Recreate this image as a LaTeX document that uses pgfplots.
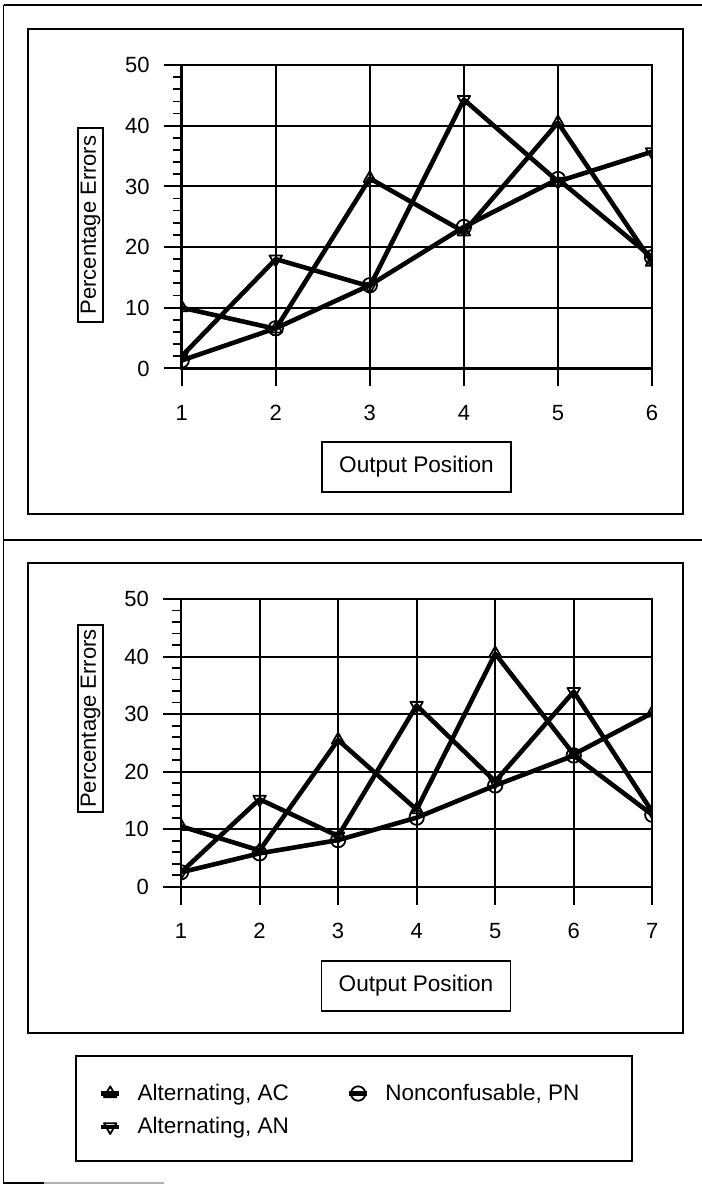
\documentclass[border=0pt]{standalone}
\usepackage{fontspec}
\setmainfont{Liberation Sans}
\usepackage{pgfplots}
\pgfplotsset{compat=1.18}

\pgfplotsset{
  myaxis/.style={
    scale only axis,
    xmin=1, ymin=0, ymax=50,
    xtick=data,
    ytick={0,10,...,50},
    minor y tick num=4,
    grid=major,
    major grid style={black, line width=1pt},
    axis line style={black, line width=1.2pt},
    tick align=outside,
    xtick pos=bottom, ytick pos=left,
    major tick length=9pt, minor tick length=4.5pt,
    major tick style={black, line width=1pt},
    minor tick style={black, line width=0.9pt},
    tick label style={font=\fontsize{11}{12}\selectfont},
    typeset ticklabels with strut,
    xticklabel style={yshift=-5pt},
    yticklabel style={xshift=-3.5pt, yshift=-1.5pt},
    /pgf/number format/assume math mode=true,
    clip mode=global,
    clip marker paths=true,
  },
  pl/.style={black, line width=2.3pt, line join=round, mark size=3.6pt},
  mo/.style={mark options={solid, line width=0.9pt}},
  md/.style={mark options={solid, line width=0.9pt, rotate=180}},
}

\begin{document}
\begin{tikzpicture}
\useasboundingbox (0pt,0pt) rectangle (351pt,-592.5pt);

% outer lines
\draw[line width=0.8pt] (1.75pt,-2.5pt) -- (351pt,-2.5pt);
\draw[line width=0.8pt] (1.75pt,-2.5pt) -- (1.75pt,-591.5pt) -- (22pt,-591.5pt);
\draw[line width=0.6pt, black!30] (22pt,-591.5pt) -- (82pt,-591.5pt);
\draw[line width=0.9pt] (1.75pt,-270pt) -- (351pt,-270pt);

% panel frames
\draw[line width=1.1pt] (14pt,-14.5pt) rectangle (341.5pt,-257pt);
\draw[line width=1.1pt] (14pt,-281.5pt) rectangle (341.5pt,-516.5pt);
\draw[line width=1.1pt] (38pt,-528pt) rectangle (316pt,-580.5pt);

% top axis
\begin{axis}[myaxis,
  at={(90.85pt,-184.15pt)}, anchor=south west,
  width=235.15pt, height=151.65pt,
  xmax=6,
]
\addplot[pl, mark=triangle, mo] coordinates {(1,10)(2,6.5)(3,31.3)(4,22.5)(5,40.5)(6,17.5)};
\addplot[pl, mark=triangle, md] coordinates {(1,2)(2,18)(3,13.5)(4,44.3)(5,30.8)(6,35.7)};
\addplot[pl, mark=o, mo] coordinates {(1,1.3)(2,6.6)(3,13.7)(4,23.3)(5,31.2)(6,18.3)};
\end{axis}

% bottom axis
\begin{axis}[myaxis,
  at={(90.5pt,-443.35pt)}, anchor=south west,
  width=235.65pt, height=143.85pt,
  xmax=7,
  legend columns=2,
  legend cell align=left,
  legend image code/.code={\draw[#1, mark repeat=2, mark phase=2] plot coordinates {(0pt,0pt) (4.5pt,0pt) (9pt,0pt)};},
  legend style={draw=none, fill=none, at={(-0.175,-0.67)}, anchor=north west,
    font=\fontsize{11.25}{13}\selectfont, inner sep=0pt, row sep=3pt,
    /tikz/every odd column/.append style={column sep=6pt},
    /tikz/every even column/.append style={column sep=27pt}},
]
\addplot[pl, mark=triangle, mo] coordinates {(1,10.5)(2,6.3)(3,25.5)(4,13.4)(5,40.5)(6,23)(7,30.2)};
\addlegendentry{Alternating, AC}
\addplot[pl, mark=o, mo] coordinates {(1,2.5)(2,5.8)(3,8.1)(4,12)(5,17.6)(6,22.8)(7,12.5)};
\addlegendentry{Nonconfusable, PN}
\addplot[pl, mark=triangle, md] coordinates {(1,2.5)(2,15.2)(3,8.8)(4,31.5)(5,18.3)(6,33.9)(7,13)};
\addlegendentry{Alternating, AN}
\end{axis}

% label boxes
\node[draw, line width=0.9pt, rotate=90, minimum width=97pt, minimum height=12.5pt, inner sep=0pt,
  font=\fontsize{11}{13}\selectfont] at (45.25pt,-112.5pt) {Percentage Errors};
\node[draw, line width=0.9pt, rotate=90, minimum width=93.5pt, minimum height=12.5pt, inner sep=0pt,
  font=\fontsize{11}{13}\selectfont] at (45.25pt,-359.25pt) {Percentage Errors};
\node[draw, line width=0.9pt, minimum width=94.5pt, minimum height=25pt, inner sep=0pt,
  font=\fontsize{11.3}{13}\selectfont] at (208.25pt,-233.5pt) {Output Position};
\node[draw, line width=0.9pt, minimum width=94.5pt, minimum height=25pt, inner sep=0pt,
  font=\fontsize{11.3}{13}\selectfont] at (208pt,-493pt) {Output Position};
\end{tikzpicture}
\end{document}
